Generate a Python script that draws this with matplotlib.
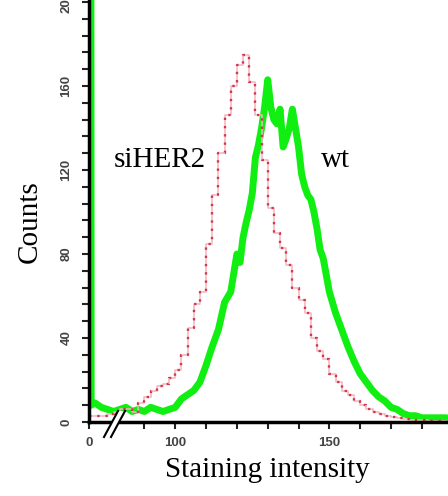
import matplotlib
matplotlib.use("Agg")
import matplotlib.pyplot as plt
from matplotlib.lines import Line2D
from matplotlib.patches import Polygon

# ---- data ----
red_x = [72, 74, 76, 78, 80, 82, 84, 86, 88, 90, 92, 94, 96, 98, 100, 102, 104, 106, 108,
         110, 112, 114, 116, 118, 120, 122, 124, 126, 128, 130, 132, 134, 136, 138, 140,
         142, 144, 146, 148, 150, 152, 154, 156, 158, 160, 162, 164, 166, 168, 170, 172,
         174, 176, 178, 180, 182, 184, 186, 188]
red_y = [3, 3, 3, 4, 5, 6, 6, 5, 9, 12, 15, 17, 18, 21, 25, 32, 45, 56, 62,
         85, 108, 128, 146, 160, 170, 175, 162, 146, 125, 102, 90, 83, 75, 64, 58,
         52, 40, 34, 30, 23, 19, 15, 13, 10, 8, 6, 5, 4, 3, 2.5, 2,
         1.5, 1, 1, 1, 0.5, 0.5, 0.5, 0.5]

green_x = [72.6, 72.7, 74, 76, 78, 80, 82, 84, 86, 88, 90, 92, 94, 96, 98, 100, 102, 104, 106,
           108, 110, 112, 114, 116, 118, 120, 121, 122, 123, 124, 125, 126, 127, 128, 129,
           130, 131, 132, 133, 134, 135, 136, 137, 138, 139, 140, 141, 142, 143, 144, 145,
           146, 147, 148, 150, 152, 154, 156, 158, 160, 162, 164, 166, 168, 170, 172,
           174, 176, 178, 180, 182, 184, 186, 188]
green_y = [260, 8, 9, 7, 6, 5, 6, 7, 5, 6, 5, 7, 6, 5, 6, 7, 11, 13, 15,
           19, 27, 36, 44, 57, 62, 80, 76, 88, 95, 101, 109, 126, 132, 140, 150,
           163, 150, 144, 142, 149, 131, 135, 140, 149, 140, 131, 118, 112, 108, 106, 100,
           92, 82, 78, 62, 52, 44, 36, 29, 23, 19, 15, 12, 10, 7, 6,
           4, 3, 3, 2, 2, 2, 2, 2]

x_major = [72, 100, 150]
x_major_labels = ["0", "100", "150"]
x_minor = [90, 110, 120, 130, 140, 160, 170, 180]
y_major = [0, 40, 80, 120, 160, 200]
y_minor = [8, 16, 24, 32, 48, 56, 64, 72, 88, 96, 104, 112, 128, 136, 144, 152, 168, 176, 184, 192]

fig = plt.figure(figsize=(4.48, 4.96), dpi=100)
ax = fig.add_axes([89 / 448, 74 / 496, 1 - 89 / 448, 422 / 496])

ax.plot(green_x, green_y, color="#11ee11", lw=5, zorder=2,
        solid_joinstyle="round", solid_capstyle="round")
ax.step(red_x, red_y, where="post", color="#f4b4bc", lw=1.1, zorder=3)
ax.step(red_x, red_y, where="post", color="#d0384e", lw=1.7, zorder=4,
        linestyle=(0, (1, 2.5)))

ax.set_xlim(72, 188.5)
ax.set_ylim(0, 201)

for s in ["top", "right"]:
    ax.spines[s].set_visible(False)
for s in ["left", "bottom"]:
    ax.spines[s].set_linewidth(2.5)
    ax.spines[s].set_zorder(5)

ax.set_xticks(x_major)
ax.set_xticklabels(x_major_labels)
ax.set_xticks(x_minor, minor=True)
ax.set_yticks(y_major)
ax.set_yticks(y_minor, minor=True)
ax.tick_params(axis="both", which="both", direction="out", length=5, width=1.5,
               color="#222222")
ax.tick_params(axis="x", which="major", pad=6)
ax.tick_params(axis="y", which="major", pad=7)
for lab in ax.get_xticklabels() + ax.get_yticklabels():
    lab.set_fontfamily("Liberation Sans")
    lab.set_fontweight("bold")
    lab.set_fontsize(9.5)
    lab.set_color("#444444")
for lab in ax.get_yticklabels():
    lab.set_rotation(90)
    lab.set_va("center")

# axis break marks
def px(xp, yp):
    return ((xp - 89) / 359, (422 - yp) / 422)

poly = Polygon([px(104, 437), px(118, 411), px(125, 411), px(111, 437)],
               closed=True, transform=ax.transAxes, facecolor="white",
               edgecolor="none", clip_on=False, zorder=6)
ax.add_patch(poly)
for a, b in [((104, 437), (118, 411)), ((111, 437), (125, 411))]:
    p1, p2 = px(*a), px(*b)
    ax.add_line(Line2D([p1[0], p2[0]], [p1[1], p2[1]], transform=ax.transAxes,
                       color="black", lw=1.5, clip_on=False, zorder=7))

serif = "Liberation Serif"
fig.text(30 / 448, 1 - 222 / 496, "Counts", rotation=90, ha="center", va="center",
         fontsize=21, fontfamily=serif)
fig.text(267 / 448, 1 - 470 / 496, "Staining intensity", ha="center", va="center",
         fontsize=21, fontfamily=serif)
fig.text(160 / 448, 1 - 160 / 496, "siHER2", ha="center", va="center",
         fontsize=21, fontfamily=serif)
fig.text(335 / 448, 1 - 160 / 496, "wt", ha="center", va="center",
         fontsize=21, fontfamily=serif)

fig.savefig("out.png", dpi=100)
